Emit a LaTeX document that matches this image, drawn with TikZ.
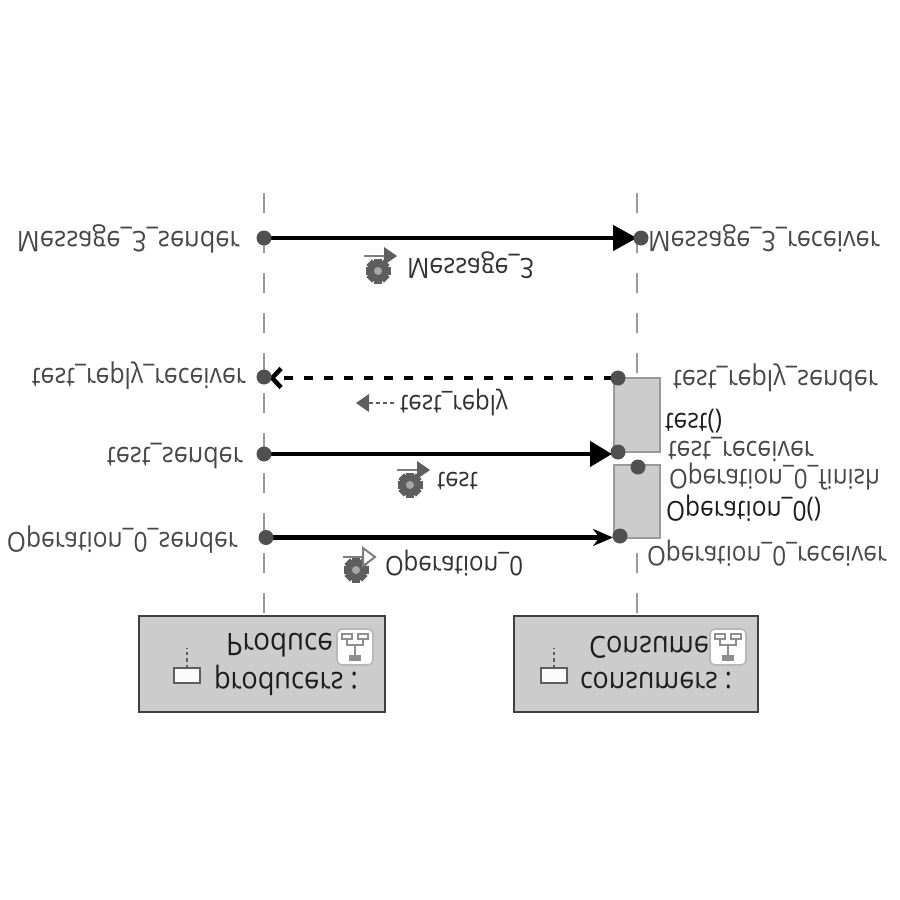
\documentclass[tikz,border=0pt]{standalone}
\usepackage{fontspec}
\usepackage{graphicx}
\setmainfont{Open Sans}
\usetikzlibrary{arrows.meta}
\definecolor{ink}{HTML}{484848}
\definecolor{darkink}{HTML}{1E1E1E}
\definecolor{dotc}{HTML}{505050}
\definecolor{boxfill}{HTML}{CCCCCC}
\definecolor{lifec}{HTML}{9A9A9A}
\definecolor{gearc}{HTML}{5E5E5E}
% flipped, width-fitted text: width in pt, text
\newcommand{\fliptext}[2]{\scalebox{1}[-1.12]{\resizebox{#1pt}{!}{\vphantom{Ag}#2}}}
\tikzset{
  x=1pt,y=-1pt,
  lab/.style={inner sep=0pt,outer sep=0pt,text=ink},
  labdark/.style={inner sep=0pt,outer sep=0pt,text=darkink},
  msglab/.style={inner sep=0pt,outer sep=0pt,text=ink!70!black},
  dot/.style={circle,fill=dotc,minimum size=15pt,inner sep=0pt,outer sep=0pt},
  lifeline/.style={draw=lifec,line width=2.5pt,dash pattern=on 20pt off 20pt},
  msg/.style={draw=black,line width=4.5pt},
  activation/.style={draw=lifec,fill=boxfill,line width=1.8pt,inner sep=0pt,outer sep=0pt},
  partbox/.style={draw=darkink!85,fill=boxfill,line width=2.5pt,inner sep=0pt,outer sep=0pt,minimum width=246pt,minimum height=96pt},
  gear/.pic={
    \foreach \a in {0,45,...,315}{
      \fill[gearc,rotate=\a] (-4,-12.5) rectangle (4,0);
    }
    \fill[gearc] (0,0) circle (10.5);
    \fill[white!45!gearc] (0,0) circle (4);
  },
  sendfilled/.pic={
    \draw[gearc!80,line width=2.5pt] (-14,0) -- (8,0);
    \fill[gearc] (6,-9) -- (19,0) -- (6,9) -- cycle;
  },
  sendopen/.pic={
    \draw[gearc!80,line width=2.5pt] (-14,0) -- (6,0);
    \draw[gearc!80,fill=white,line width=2pt] (6,-9) -- (18,0) -- (6,9) -- cycle;
  },
  hier/.pic={
    \draw[lifec!70,fill=white,line width=1.6pt,rounded corners=5pt] (-18,-18) rectangle (18,18);
    \draw[gearc!70,line width=1.2pt] (-13,-13) rectangle (-3,-8);
    \draw[gearc!70,line width=1.2pt] (3,-13) rectangle (13,-8);
    \draw[gearc!70,line width=1.2pt] (-8,-8) -- (-8,-2) -- (8,-2) -- (8,-8) (0,-2) -- (0,8);
    \fill[gearc!70] (-6,8) rectangle (6,14);
  },
  parti/.pic={
    \draw[gearc,line width=1.8pt,fill=white!92!boxfill] (-13,0) rectangle (13,15);
    \draw[gearc,line width=2.4pt,dash pattern=on 3.5pt off 3pt] (0,0) -- (0,-20);
  }
}
\begin{document}
\begin{tikzpicture}
\useasboundingbox (0,0) rectangle (900,900);
\fill[white] (0,0) rectangle (900,900);

% parts
\node[partbox] (prod) at (262,664) {};
\node[partbox,minimum width=244pt] (cons) at (636,664) {};

% lifeline tops
\coordinate (topA) at (264,193);
\coordinate (topB) at (637,193);
\draw[lifeline] (topA) -- (topA |- prod.north);
\draw[lifeline] (topB) -- (topB |- cons.north);

% activations
\node[activation,minimum width=46pt,minimum height=74pt] (actT) at (637,415) {};
\node[activation,minimum width=46pt,minimum height=73pt] (actO) at (637,501.5) {};

% dot anchors
\coordinate (ms) at (264,238);
\coordinate (mr) at (641,238);
\coordinate (rr) at (264,377);
\coordinate (rs) at (618,378);
\coordinate (ts) at (264,454);
\coordinate (tr) at (618,452);
\coordinate (os) at (266,537.5);
\coordinate (or) at (620,536);

% connectors
\draw[msg,-{Triangle[length=24pt,width=25pt]},shorten >=4pt] (ms) -- (mr);
\draw[msg,dash pattern=on 9pt off 11pt,dash phase=15pt,-{Straight Barb[length=9pt,width=19pt,line width=4.5pt]},shorten >=5pt] (rs) -- (rr |- rs);
\draw[msg,-{Triangle[length=22pt,width=25pt]},shorten >=6pt] (ts) -- (ts -| tr);
\draw[msg,-{Stealth[length=20pt,width=17pt]},shorten >=7pt] (os) -- (os -| or);

% dots
\node[dot] (dms) at (ms) {};
\node[dot] (dmr) at (mr) {};
\node[dot] (drr) at (rr) {};
\node[dot] (drs) at (rs) {};
\node[dot] (dts) at (ts) {};
\node[dot] (dtr) at (tr) {};
\node[dot] (ofin) at (638,467) {};
\node[dot] (dos) at (os) {};
\node[dot] (dor) at (or) {};

% left labels
\node[lab,anchor=east] (l1) at (240,239) {\fliptext{223}{Message\_3\_sender}};
\node[lab,anchor=east] (l2) at (246,376) {\fliptext{214}{test\_reply\_receiver}};
\node[lab,anchor=east] (l3) at (243,455) {\fliptext{136}{test\_sender}};
\node[lab,anchor=east] (l4) at (238,540) {\fliptext{231}{Operation\_0\_sender}};

% right labels
\node[lab,anchor=west] (r1) at (648,238) {\fliptext{232}{Message\_3\_receiver}};
\node[lab,anchor=west] (r2) at (673,378) {\fliptext{205}{test\_reply\_sender}};
\node[labdark,anchor=west] (r3) at (665,420) {\fliptext{57}{test()}};
\node[lab,anchor=west] (r4) at (668,448) {\fliptext{146}{test\_receiver}};
\node[lab,anchor=west] (r5) at (669,477) {\fliptext{211}{Operation\_0\_finish}};
\node[labdark,anchor=west] (r6) at (666,508) {\fliptext{155}{Operation\_0()}};
\node[lab,anchor=west] (r7) at (647,553) {\fliptext{240}{Operation\_0\_receiver}};

% message labels
\node[msglab,anchor=west] (m1) at (407,265) {\fliptext{127}{Message\_3}};
\node[msglab,anchor=west] (m2) at (400,402) {\fliptext{108}{test\_reply}};
\node[msglab,anchor=west] (m3) at (437,479) {\fliptext{41}{test}};
\node[msglab,anchor=west] (m4) at (385,563) {\fliptext{138}{Operation\_0}};

% message icons
\pic at (378,271) {gear};
\pic at (378,256) {sendfilled};
\pic at (410,485) {gear};
\pic at (411,470) {sendfilled};
\pic at (356,570) {gear};
\pic at (357,557) {sendopen};
\fill[gearc] (356,403) -- (369,394) -- (369,412) -- cycle;
\draw[gearc,line width=2pt,dash pattern=on 4pt off 3pt] (369,403) -- (394,403);

% part labels
\node[labdark,anchor=west] (pa) at (226,642) {\fliptext{107}{Produce}};
\node[labdark,anchor=west] (pb) at (214,680) {\fliptext{144}{producers :}};
\node[labdark,anchor=west] (ca) at (589,644) {\fliptext{120}{Consume}};
\node[labdark,anchor=west] (cb) at (580,680) {\fliptext{152}{consumers :}};
\pic at (355,647) {hier};
\pic at (728,647) {hier};
\pic at (187,668) {parti};
\pic at (554,668) {parti};
\end{tikzpicture}
\end{document}
